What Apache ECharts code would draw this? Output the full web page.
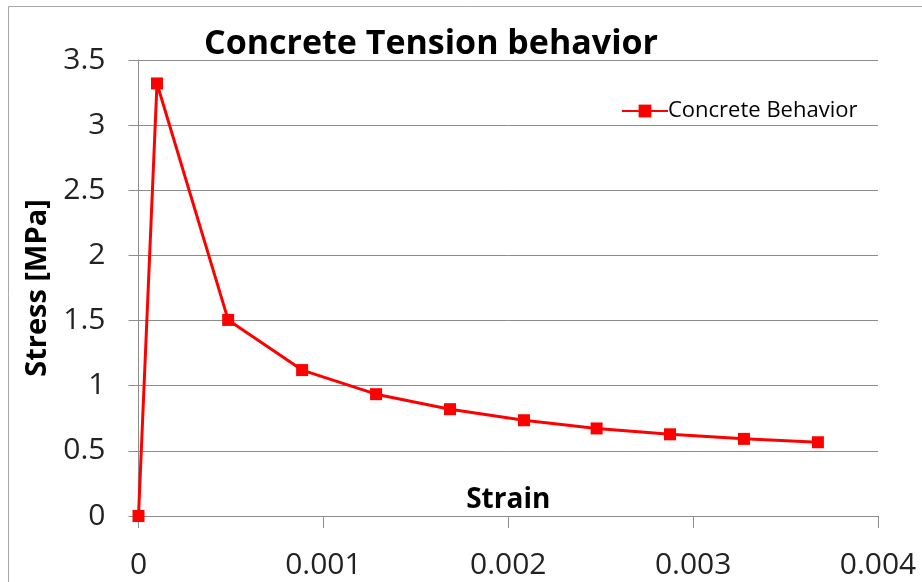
<!DOCTYPE html>
<html>
<head>
<meta charset="utf-8">
<script src="https://cdn.jsdelivr.net/npm/echarts@6/dist/echarts.min.js"></script>
<style>
html,body{margin:0;padding:0;background:#fff;}
#c{width:922px;height:582px;}
</style>
</head>
<body>
<div id="c"></div>
<script>
var strain = [0, 0.0001, 0.000485, 0.000885, 0.001285, 0.001685, 0.002085, 0.002478, 0.002875, 0.003275, 0.003675];
var stress = [0, 3.32, 1.505, 1.12, 0.935, 0.82, 0.735, 0.672, 0.627, 0.592, 0.566];
var seriesName = 'Concrete Behavior';
var titleText = 'Concrete Tension behavior';
var xName = 'Strain';
var yName = 'Stress [MPa]';

var FONT = 'Open Sans';
var chart = echarts.init(document.getElementById('c'));
chart.setOption({
  animation: false,
  backgroundColor: '#fff',
  graphic: [{
    type: 'polyline',
    shape: {points: [[8.5, 600], [8.5, 6.5], [930, 6.5]]},
    style: {stroke: '#a6a6a6', lineWidth: 1, fill: null},
    silent: true
  }],
  title: {
    text: titleText,
    left: 426, top: 22,
    textAlign: 'center',
    textStyle: {fontFamily: FONT, fontWeight: 'bold', fontSize: 34, color: '#000'}
  },
  legend: {
    data: [seriesName],
    left: 616, top: 95,
    itemWidth: 46, itemHeight: 16,
    itemGap: 4,
    textStyle: {fontFamily: FONT, fontSize: 22, color: '#000', padding: [0, 0, 0, -5]}
  },
  grid: {left: 138.5, right: 44, top: 60, bottom: 66, containLabel: false, outerBoundsMode: 'none'},
  xAxis: {
    type: 'value',
    min: 0, max: 0.004, interval: 0.001,
    name: xName,
    nameLocation: 'middle',
    nameGap: -30,
    nameMoveOverlap: false,
    nameTextStyle: {fontFamily: FONT, fontWeight: 'bold', fontSize: 28, color: '#000'},
    axisLine: {show: true, onZero: false, lineStyle: {color: '#8c8c8c', width: 1}},
    axisTick: {show: true, inside: false, length: 12, lineStyle: {color: '#8c8c8c'}},
    axisLabel: {margin: 34, fontFamily: FONT, fontSize: 30, color: '#222',
      formatter: function (v) { return String(+v.toFixed(3)); }},
    splitLine: {show: false}
  },
  yAxis: {
    type: 'value',
    min: 0, max: 3.5, interval: 0.5,
    name: yName,
    nameLocation: 'middle',
    nameGap: 86,
    nameRotate: 90,
    nameMoveOverlap: false,
    nameTextStyle: {fontFamily: FONT, fontWeight: 'bold', fontSize: 29, color: '#000'},
    axisLine: {show: true, lineStyle: {color: '#8c8c8c', width: 1}},
    axisTick: {show: true, inside: false, length: 10, lineStyle: {color: '#8c8c8c'}},
    axisLabel: {margin: 33, fontFamily: FONT, fontSize: 30, color: '#222'},
    splitLine: {show: true, lineStyle: {color: '#8c8c8c', width: 1}}
  },
  series: [{
    name: seriesName,
    type: 'line',
    data: strain.map(function (x, i) { return [x, stress[i]]; }),
    symbol: 'rect',
    symbolSize: 12,
    clip: false,
    lineStyle: {color: '#ff0000', width: 3},
    itemStyle: {color: '#ff0000'}
  }]
});
</script>
</body>
</html>
